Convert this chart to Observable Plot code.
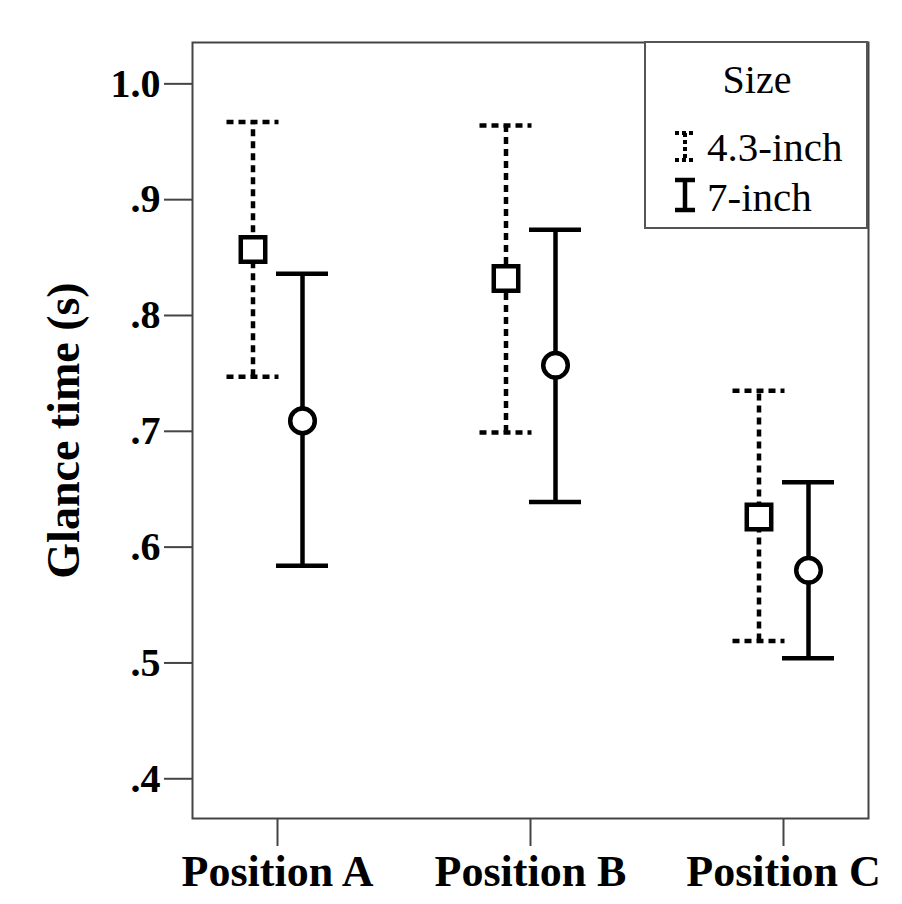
<!DOCTYPE html>
<html><head><meta charset="utf-8">
<script src="https://cdn.jsdelivr.net/npm/d3@7"></script>
<script src="https://cdn.jsdelivr.net/npm/@observablehq/plot@0.6"></script>
<style>
body{margin:0;background:#fff;}
#wrap{position:relative;width:902px;height:904px;}
#wrap svg{position:absolute;left:0;top:0;}
</style></head><body><div id="wrap"></div>
<script>
const positions = ["Position A", "Position B", "Position C"];
const sizes = ["4.3-inch", "7-inch"];
const legendTitle = "Size";
const yLabel = "Glance time (s)";
const means43 = [0.857, 0.832, 0.626];
const lower43 = [0.747, 0.699, 0.519];
const upper43 = [0.967, 0.964, 0.735];
const means7 = [0.709, 0.757, 0.580];
const lower7 = [0.584, 0.639, 0.504];
const upper7 = [0.836, 0.874, 0.656];
const yTicks = [0.4, 0.5, 0.6, 0.7, 0.8, 0.9, 1.0];
const yTickLabels = [".4", ".5", ".6", ".7", ".8", ".9", "1.0"];

const rows43 = positions.map((p, i) => ({position: p, size: sizes[0], mean: means43[i], lo: lower43[i], hi: upper43[i]}));
const rows7 = positions.map((p, i) => ({position: p, size: sizes[1], mean: means7[i], lo: lower7[i], hi: upper7[i]}));

const font = '"Liberation Serif", "Times New Roman", serif';
const LW = 4.5;
const dash = "7,5";
const off43 = -24.5, off7 = 25;
const capHalf = 26;

const chart = Plot.plot({
  width: 902, height: 904,
  marginLeft: 192, marginRight: 34, marginTop: 42, marginBottom: 86,
  style: {fontFamily: font, background: "white", color: "black"},
  x: {type: "point", domain: positions, padding: 0.333, label: null},
  y: {domain: [0.3657, 1.0357], label: null},
  marks: [
    Plot.frame({stroke: "#444", strokeWidth: 2}),
    Plot.axisY({ticks: yTicks, tickFormat: d => yTickLabels[yTicks.indexOf(d)], tickSize: 28, tickPadding: 4,
      fontSize: 40, fontWeight: "bold", stroke: "#444", strokeWidth: 2, fill: "black", label: null}),
    Plot.axisX({tickSize: 28, tickPadding: 8, fontSize: 44, fontWeight: "bold", stroke: "#444", strokeWidth: 2, fill: "black", label: null}),
    Plot.text([yLabel], {frameAnchor: "left", rotate: -90, dx: -128, textAnchor: "middle", fontSize: 46, fontWeight: "bold", lineAnchor: "middle", fill: "black"}),
    // 4.3-inch: dashed
    Plot.ruleX(rows43, {x: "position", y1: "lo", y2: "hi", dx: off43, stroke: "black", strokeWidth: LW, strokeDasharray: dash}),
    Plot.ruleY(rows43, {x1: "position", x2: "position", y: "hi", dx: off43, insetLeft: -capHalf, insetRight: -capHalf, stroke: "black", strokeWidth: LW, strokeDasharray: dash}),
    Plot.ruleY(rows43, {x1: "position", x2: "position", y: "lo", dx: off43, insetLeft: -capHalf, insetRight: -capHalf, stroke: "black", strokeWidth: LW, strokeDasharray: dash}),
    Plot.dot(rows43, {x: "position", y: "mean", dx: off43, symbol: "square", r: 13.8, fill: "white", stroke: "black", strokeWidth: LW}),
    // 7-inch: solid
    Plot.ruleX(rows7, {x: "position", y1: "lo", y2: "hi", dx: off7, stroke: "black", strokeWidth: LW}),
    Plot.ruleY(rows7, {x1: "position", x2: "position", y: "hi", dx: off7, insetLeft: -capHalf, insetRight: -capHalf, stroke: "black", strokeWidth: LW}),
    Plot.ruleY(rows7, {x1: "position", x2: "position", y: "lo", dx: off7, insetLeft: -capHalf, insetRight: -capHalf, stroke: "black", strokeWidth: LW}),
    Plot.dot(rows7, {x: "position", y: "mean", dx: off7, symbol: "circle", r: 12.3, fill: "white", stroke: "black", strokeWidth: LW})
  ]
});
document.getElementById("wrap").appendChild(chart);

// Legend overlay
const svg = d3.select("#wrap").append("svg").attr("width", 902).attr("height", 904).style("pointer-events", "none");
svg.append("rect").attr("x", 645).attr("y", 42).attr("width", 222).attr("height", 186)
  .attr("fill", "white").attr("stroke", "#555").attr("stroke-width", 2);
svg.append("text").attr("x", 757).attr("y", 93).attr("text-anchor", "middle")
  .attr("font-family", font).attr("font-size", 40).text(legendTitle);
const entries = [{label: sizes[0], dashed: true, top: 133, bot: 160, base: 161},
                 {label: sizes[1], dashed: false, top: 180, bot: 210, base: 211}];
entries.forEach(e => {
  const g = svg.append("g").attr("stroke", "black").attr("stroke-width", e.dashed ? 4 : 4.5);
  const da = e.dashed ? "4,3" : null;
  g.append("line").attr("x1", 675).attr("x2", 695).attr("y1", e.top).attr("y2", e.top).attr("stroke-dasharray", da);
  g.append("line").attr("x1", 685).attr("x2", 685).attr("y1", e.top).attr("y2", e.bot).attr("stroke-dasharray", da);
  g.append("line").attr("x1", 675).attr("x2", 695).attr("y1", e.bot).attr("y2", e.bot).attr("stroke-dasharray", da);
  svg.append("text").attr("x", 707).attr("y", e.base).attr("font-family", font).attr("font-size", 41).text(e.label);
});
</script></body></html>
